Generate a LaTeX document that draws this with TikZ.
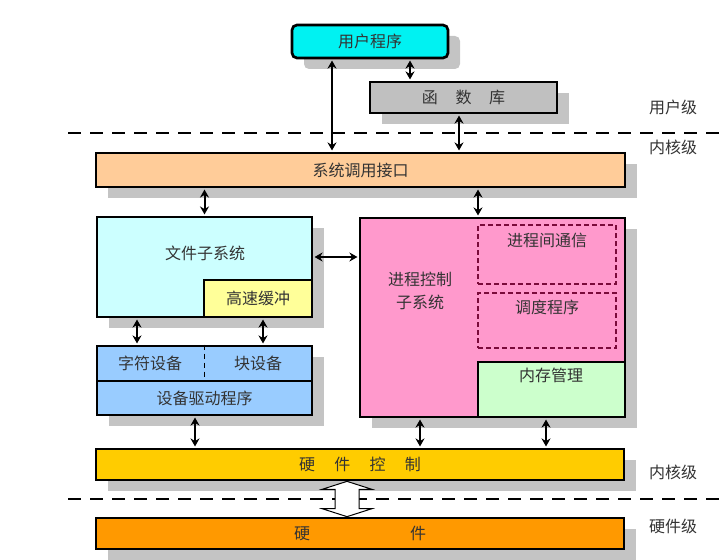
\documentclass[tikz,border=0pt]{standalone}
\usepackage{fontspec}
\newfontfamily\cjk{Noto Sans CJK SC}
\usepackage{tikz}
\usetikzlibrary{arrows.meta,calc,shadows}
\usepackage{xcolor}
\definecolor{usercol}{HTML}{00F2F2}
\definecolor{libcol}{HTML}{C0C0C0}
\definecolor{scicol}{HTML}{FFCC99}
\definecolor{fscol}{HTML}{CCFFFF}
\definecolor{cachecol}{HTML}{FFFF99}
\definecolor{pccol}{HTML}{FF99CC}
\definecolor{memcol}{HTML}{CCFFCC}
\definecolor{devcol}{HTML}{99CCFF}
\definecolor{hwccol}{HTML}{FFCC00}
\definecolor{hwcol}{HTML}{FF9900}
\definecolor{shadowcol}{HTML}{C4C4C4}
\definecolor{dashcol}{HTML}{7A0A3A}

\begin{document}
\begin{tikzpicture}[x=1pt,y=-1pt,>={Stealth[length=8pt,width=9pt]},
  every node/.style={font=\cjk\fontsize{16pt}{19pt}\selectfont,text=black!80},
  box/.style={draw=black,line width=2.7pt,inner sep=0pt},
  shad/.style={drop shadow={shadow xshift=12pt,shadow yshift=-11pt,fill=shadowcol,opacity=1}},
  dbox/.style={draw=dashcol,line width=1.5pt,dash pattern=on 5pt off 3pt,inner sep=0pt},
  link/.style={<->,line width=2pt,shorten <=1.2pt,shorten >=1.2pt},
  sep/.style={line width=2.6pt,dash pattern=on 13pt off 9pt}]
\useasboundingbox (0,0) rectangle (722,559);
\draw[sep] (68,133) -- (722,133);
\draw[sep] (68,499) -- (722,499);
\node[box,shad,rounded corners=5pt,fill=usercol,minimum width=156pt,minimum height=33pt] (user) at (370,41.5) {用户程序};
\node[box,shad,fill=libcol,minimum width=187pt,minimum height=31pt] (lib) at (463.5,97.5) {函\hspace{1.1em}数\hspace{1.1em}库};
\node[box,shad,fill=scicol,minimum width=529pt,minimum height=34pt] (sci) at (360.5,170) {系统调用接口};
\node[box,shad,fill=fscol,minimum width=215pt,minimum height=100pt] (fs) at (204.5,267) {};
\node[box,fill=cachecol,minimum width=108pt,minimum height=37pt] (cache) at (258,298.5) {高速缓冲};
\node (fst) at (205,253) {文件子系统};
\node[box,shad,fill=pccol,minimum width=265pt,minimum height=199pt] (pc) at (492.5,317.5) {};
\node[align=center,font=\cjk\fontsize{16pt}{23pt}\selectfont] (pct) at (420,291) {进程控制\\子系统};
\node[dbox,minimum width=138pt,minimum height=59pt] (ipc) at (547,254.5) {};
\node (ipct) at (547,240) {进程间通信};
\node[dbox,minimum width=138pt,minimum height=55pt] (sched) at (547,320.5) {};
\node (schedt) at (547,307) {调度程序};
\node[box,fill=memcol,minimum width=147pt,minimum height=55pt] (mem) at (551.5,389.5) {};
\node (memt) at (551,375) {内存管理};
\node[box,shad,fill=devcol,minimum width=215pt,minimum height=35pt] (dev) at (204.5,363.5) {};
\node (chr) at (150,363) {字符设备};
\node (blk) at (258,363) {块设备};
\draw[line width=1.6pt,dash pattern=on 5pt off 4pt] (dev.north) -- (dev.south);
\node[box,shad,fill=devcol,minimum width=215pt,minimum height=34pt] (drv) at (204.5,398) {设备驱动程序};
\node[box,shad,fill=hwccol,minimum width=528pt,minimum height=31pt] (hwc) at (360,464.5) {硬\hspace{1.2em}件\hspace{1.2em}控\hspace{1.2em}制};
\node[box,shad,fill=hwcol,minimum width=528pt,minimum height=31pt] (hw) at (360,533.5) {硬\hspace{100pt}件};
\node (ulv) at (673,107) {用户级};
\node (klv) at (673,147) {内核级};
\node (klv2) at (673,472) {内核级};
\node (hlv) at (673,526) {硬件级};
\draw[link] (user.south -| 332,0) -- (sci.north -| 332,0);
\draw[link] (user.south -| 410,0) -- (lib.north -| 410,0);
\draw[link] (lib.south -| 459,0) -- (sci.north -| 459,0);
\draw[link] (sci.south -| fs.north) -- (fs.north);
\draw[link] (sci.south -| 478,0) -- (pc.north -| 478,0);
\draw[link] (fs.east |- 0,257) -- (pc.west |- 0,257);
\draw[link] (fs.south -| 137,0) -- (dev.north -| 137,0);
\draw[link] (cache.south -| 263,0) -- (dev.north -| 263,0);
\draw[link] (drv.south -| 195,0) -- (hwc.north -| 195,0);
\draw[link] (pc.south -| 420,0) -- (hwc.north -| 420,0);
\draw[link] (mem.south -| 546,0) -- (hwc.north -| 546,0);
\coordinate (mid) at (347,500);
\draw[fill=white,line width=1pt] (hwc.south -| mid) -- ++(25,8) -- ++(-13,0) -- ($(hw.north -| mid)+(12,-8)$) -- ++(13,0) -- (hw.north -| mid) -- ++(-25,-8) -- ++(13,0) -- ($(hwc.south -| mid)+(-12,8)$) -- ++(-13,0) -- cycle;
\end{tikzpicture}
\end{document}
